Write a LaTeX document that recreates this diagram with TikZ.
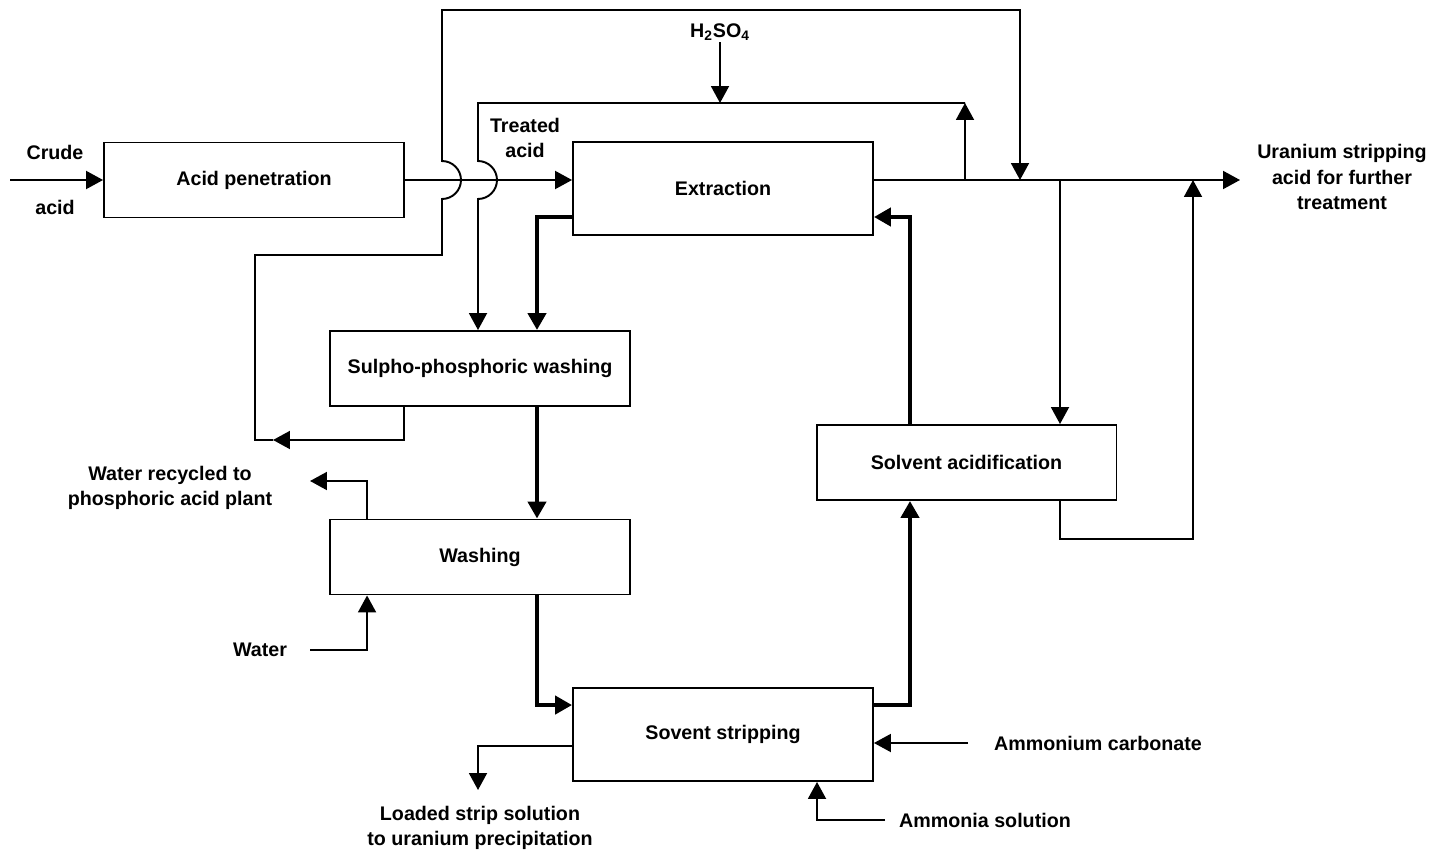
\documentclass[tikz,border=0pt]{standalone}
\usepackage{fontspec}
\setmainfont{Liberation Sans}
\usepackage{tikz}
\usetikzlibrary{arrows.meta,positioning,calc}

\begin{document}
\begin{tikzpicture}[
    x=0.02cm, y=-0.02cm,
    >={Triangle[length=0.34cm,width=0.36cm]},
    font=\fontsize{11.2}{14.5}\selectfont\bfseries,
    box/.style={
        draw=black,
        line width=1.1pt,
        minimum width=6cm,
        minimum height=1.5cm,
        align=center
    },
    tall/.style={
        box,
        minimum height=1.86cm
    },
    lbl/.style={
        align=center,
        inner sep=1pt
    },
    arr/.style={->, line width=1.1pt},
    flow/.style={->, line width=2.6pt},
    line/.style={line width=1.1pt}
]
\useasboundingbox (0,0) rectangle (1445,855);

% process boxes
\node[box] (acidpen) at (254,180) {Acid penetration};
\node[tall] (extract) at (723,188.5) {Extraction};
\node[box] (sulpho) at (480,368.5) {Sulpho-phosphoric washing};
\node[box] (wash) at (480,557) {Washing};
\node[tall] (strip) at (723,734.5) {Sovent stripping};
\node[box] (acidif) at (966.5,462.5) {Solvent acidification};

% labels
\node[lbl] (crude) at (55,152) {Crude};
\node[lbl] (crudeacid) at (55,207) {acid};
\node[lbl] (treated) at (525,138) {Treated\\acid};
\node[lbl] (sulphuric) at (720,32) {H\textsubscript{2}SO\textsubscript{4}};
\node[lbl] (uranium) at (1342,177) {Uranium stripping\\acid for further\\treatment};
\node[lbl] (recycled) at (170,488) {Water recycled to\\phosphoric acid plant};
\node[lbl] (water) at (260,650) {Water};
\node[lbl] (loaded) at (480,828) {Loaded strip solution\\to uranium precipitation};
\node[lbl] (carbonate) at (1098,743) {Ammonium carbonate};
\node[lbl] (ammonia) at (985,820) {Ammonia solution};

% free ends and junctions
\coordinate (crudein) at (10,180);
\coordinate (outlet) at (1240,180);
\coordinate (jup) at (965,180);
\coordinate (jin) at (1020,180);
\coordinate (jdown) at (1060,180);
\coordinate (jret) at (1193,180);
\coordinate (tatop) at (478,103);
\coordinate (recycle) at (273,440);
\coordinate (recycout) at (310,481);
\coordinate (waterin) at (310,650);
\coordinate (loadout) at (478,790);
\coordinate (carbin) at (968,743);
\coordinate (ammin) at (885,820);
\coordinate (lcol) at (537,217);
\coordinate (rcol) at (910,217);

% acid line
\draw[arr] (crudein) -- (acidpen.west |- crudein);
\draw[arr] (acidpen.east |- crudein) -- (extract.west |- crudein);
\draw[arr] (extract.east |- crudein) -- (outlet);

% solvent loop
\draw[flow] (extract.south west |- lcol) -- (lcol) -- (sulpho.north -| lcol);
\draw[flow] (sulpho.south -| lcol) -- (wash.north -| lcol);
\draw[flow] (wash.south -| lcol) |- ([yshift=-0.36cm]strip.north west);
\draw[flow] ([yshift=-0.36cm]strip.north east) -| (acidif.south -| rcol);
\draw[flow] (acidif.north -| rcol) -- (rcol) -- (extract.south east |- rcol);

% treated acid return
\draw[arr] (jup) -- (jup |- tatop);
\draw[arr] (sulphuric) -- (sulphuric |- tatop);
\draw[arr] (jup |- tatop) -- (tatop) -- (478,161)
    arc[start angle=90, end angle=-90, radius=0.38cm] -- (sulpho.north -| tatop);

% washing liquor recycle
\draw[arr] ([xshift=1.5cm]sulpho.south west) |- (recycle);
\draw[arr] (recycle) -- (255,440) -- (255,255) -- (442,255) -- (442,199)
    arc[start angle=-90, end angle=90, radius=0.38cm] -- (442,10) -| (jin);

% acidification branch
\draw[arr] (jdown) -- (acidif.north -| jdown);
\draw[arr] (acidif.south -| jdown) -- ++(0,38) -| (jret);

% washing water
\draw[arr] ([xshift=0.76cm]wash.north west) |- (recycout);
\draw[arr] (waterin) -| ([xshift=0.76cm]wash.south west);

% stripping
\draw[arr] ([yshift=-0.23cm]strip.west) -| (loadout);
\draw[arr] (carbin) -- (strip.east |- carbin);
\draw[arr] (ammin) -| ([xshift=4.9cm]strip.south west);

\end{tikzpicture}
\end{document}
